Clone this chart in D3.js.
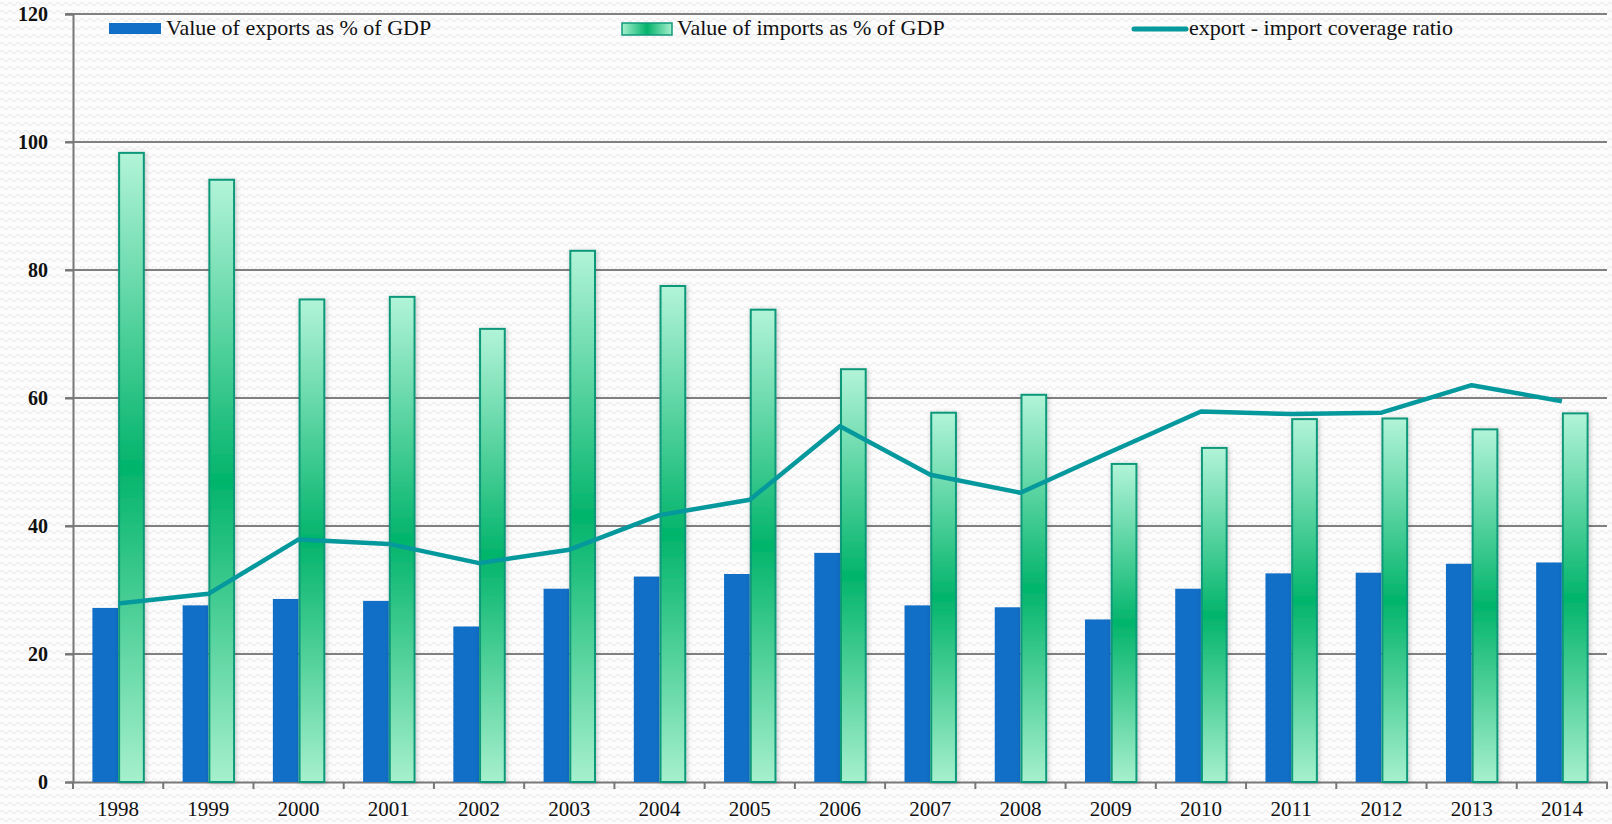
<!DOCTYPE html>
<html>
<head>
<meta charset="utf-8">
<script src="https://cdn.jsdelivr.net/npm/d3@7"></script>
<style>
  body { margin: 0; background: #fff; }
  svg text { font-family: "Liberation Serif", "DejaVu Serif", serif; fill: #111; }
</style>
</head>
<body>
<svg id="chart"></svg>
<script>
var years = ["1998", "1999", "2000", "2001", "2002", "2003", "2004", "2005", "2006",
             "2007", "2008", "2009", "2010", "2011", "2012", "2013", "2014"];
var exportsGdp = [27.2, 27.6, 28.6, 28.3, 24.3, 30.2, 32.1, 32.5, 35.8,
                  27.6, 27.3, 25.4, 30.2, 32.6, 32.7, 34.1, 34.3];
var importsGdp = [98.3, 94.1, 75.4, 75.8, 70.8, 83.0, 77.5, 73.8, 64.5,
                  57.7, 60.5, 49.7, 52.2, 56.7, 56.8, 55.1, 57.6];
var coverage = [27.9, 29.4, 37.9, 37.2, 34.2, 36.3, 41.7, 44.1, 55.6,
                48.0, 45.2, 51.6, 57.9, 57.5, 57.7, 62.0, 59.5];
var yTicks = [0, 20, 40, 60, 80, 100, 120];
var legendLabels = ["Value of exports as % of GDP", "Value of imports as % of GDP", "export - import coverage ratio"];

var W = 1612, H = 824;
var plotLeft = 73, plotRight = 1607, plotTop = 14, plotBottom = 782;

var svg = d3.select("#chart").attr("width", W).attr("height", H);
var defs = svg.append("defs");

// wavy background pattern
var pat = defs.append("pattern")
    .attr("id", "waves")
    .attr("patternUnits", "userSpaceOnUse")
    .attr("width", 8).attr("height", 8);
pat.append("rect").attr("width", 8).attr("height", 8).attr("fill", "#fcfcfc");
pat.append("path")
    .attr("d", "M0,4 Q2,1 4,4 T8,4")
    .attr("fill", "none")
    .attr("stroke", "#ebebeb")
    .attr("stroke-width", 1.2);

// import bar gradient
var grad = defs.append("linearGradient")
    .attr("id", "impGrad")
    .attr("x1", 0).attr("y1", 0).attr("x2", 0).attr("y2", 1);
grad.append("stop").attr("offset", "0%").attr("stop-color", "#b2f4d8");
grad.append("stop").attr("offset", "50%").attr("stop-color", "#02b46b");
grad.append("stop").attr("offset", "100%").attr("stop-color", "#a6f0cd");

var legGrad = defs.append("linearGradient")
    .attr("id", "legGrad")
    .attr("x1", 0).attr("y1", 0).attr("x2", 1).attr("y2", 0);
legGrad.append("stop").attr("offset", "0%").attr("stop-color", "#a6f0cd");
legGrad.append("stop").attr("offset", "50%").attr("stop-color", "#03b36c");
legGrad.append("stop").attr("offset", "100%").attr("stop-color", "#a6f0cd");

var shadow = defs.append("filter")
    .attr("id", "shadow")
    .attr("x", "-50%").attr("y", "-5%").attr("width", "200%").attr("height", "110%");
shadow.append("feDropShadow")
    .attr("dx", 1).attr("dy", 1).attr("stdDeviation", 2.5)
    .attr("flood-color", "#000").attr("flood-opacity", 0.22);

svg.append("rect").attr("width", W).attr("height", H).attr("fill", "url(#waves)");

var x = d3.scaleBand().domain(years).range([plotLeft, plotRight]).padding(0);
var bw = x.bandwidth();
var gw = bw * 0.57;
var x1 = d3.scaleBand().domain(["exp", "imp"]).range([(bw - gw) / 2, (bw + gw) / 2]).padding(0);
var y = d3.scaleLinear().domain([0, 120]).range([plotBottom, plotTop]);

// grid
svg.append("g").selectAll("line")
    .data(yTicks.filter(function (d) { return d > 0; }))
    .enter().append("line")
    .attr("x1", plotLeft - 8).attr("x2", plotRight)
    .attr("y1", function (d) { return y(d); })
    .attr("y2", function (d) { return y(d); })
    .attr("stroke", "#808080")
    .attr("stroke-width", 2);

// y axis
var yAxis = svg.append("g")
    .attr("transform", "translate(" + plotLeft + ",0)")
    .call(d3.axisLeft(y).tickValues(yTicks).tickSize(8).tickPadding(17));
yAxis.select(".domain").attr("stroke", "#777").attr("stroke-width", 2);
yAxis.selectAll(".tick line").attr("stroke", "#777").attr("stroke-width", 2);
yAxis.selectAll(".tick text").style("font-size", "20px").style("font-weight", "bold").attr("fill", "#111");

// x axis
var xAxis = svg.append("g")
    .attr("transform", "translate(0," + plotBottom + ")")
    .call(d3.axisBottom(x).tickSize(0).tickPadding(19));
xAxis.select(".domain").attr("stroke", "#777").attr("stroke-width", 2);
xAxis.selectAll(".tick text").style("font-size", "21px").attr("fill", "#111");
xAxis.selectAll(".sep")
    .data(years.concat(["end"]))
    .enter().append("line")
    .attr("class", "sep")
    .attr("x1", function (d, i) { return plotLeft + i * bw; })
    .attr("x2", function (d, i) { return plotLeft + i * bw; })
    .attr("y1", 0).attr("y2", 7)
    .attr("stroke", "#777").attr("stroke-width", 2);

// bars
var groups = svg.append("g").selectAll("g")
    .data(years)
    .enter().append("g")
    .attr("transform", function (d) { return "translate(" + x(d) + ",0)"; });

groups.append("rect")
    .attr("x", x1("exp"))
    .attr("width", x1.bandwidth())
    .attr("y", function (d, i) { return y(exportsGdp[i]); })
    .attr("height", function (d, i) { return y(0) - y(exportsGdp[i]); })
    .attr("fill", "#116fc7");

groups.append("rect")
    .attr("x", x1("imp") + 1)
    .attr("width", x1.bandwidth() - 1)
    .attr("y", function (d, i) { return y(importsGdp[i]); })
    .attr("height", function (d, i) { return y(0) - y(importsGdp[i]); })
    .attr("fill", "url(#impGrad)")
    .attr("stroke", "#10987a")
    .attr("stroke-width", 2)
    .attr("filter", "url(#shadow)");

// coverage line
var line = d3.line()
    .x(function (d, i) { return x(years[i]) + bw / 2; })
    .y(function (d) { return y(d); });

svg.append("path")
    .datum(coverage)
    .attr("d", line)
    .attr("fill", "none")
    .attr("stroke", "#05989c")
    .attr("stroke-width", 4.5)
    .attr("stroke-linejoin", "round");

// legend
var leg = svg.append("g");
leg.append("rect").attr("x", 109).attr("y", 23).attr("width", 52).attr("height", 11).attr("fill", "#116fc7");
leg.append("text").attr("x", 166).attr("y", 35).style("font-size", "22px").text(legendLabels[0]);

leg.append("rect").attr("x", 622).attr("y", 23).attr("width", 50).attr("height", 12)
    .attr("fill", "url(#legGrad)").attr("stroke", "#10987a").attr("stroke-width", 1.5);
leg.append("text").attr("x", 677).attr("y", 35).style("font-size", "22px").text(legendLabels[1]);

leg.append("line").attr("x1", 1134).attr("x2", 1186).attr("y1", 29).attr("y2", 29)
    .attr("stroke", "#05989c").attr("stroke-width", 5).attr("stroke-linecap", "round");
leg.append("text").attr("x", 1189).attr("y", 35).style("font-size", "22px").text(legendLabels[2]);
</script>
</body>
</html>
